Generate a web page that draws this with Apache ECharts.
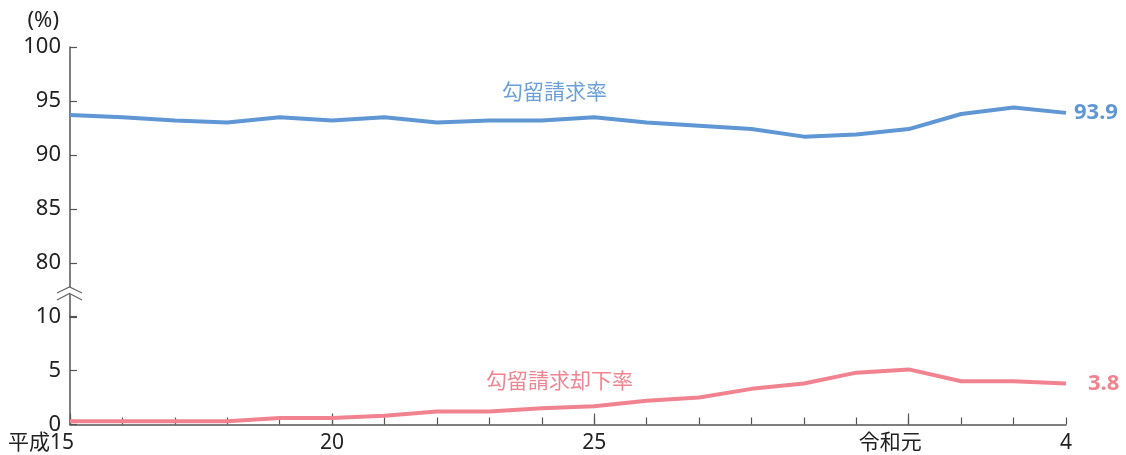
<!DOCTYPE html>
<html>
<head>
<meta charset="utf-8">
<script src="https://cdn.jsdelivr.net/npm/echarts@6/dist/echarts.min.js"></script>
<style>
html,body{margin:0;padding:0;background:#fff;}
#chart{width:1126px;height:455px;}
</style>
</head>
<body>
<div id="chart"></div>
<script>
// Data
const categories = ['平成15','16','17','18','19','20','21','22','23','24','25','26','27','28','29','30','令和元','2','3','4'];
const requestRate = [93.7, 93.5, 93.2, 93.0, 93.5, 93.2, 93.5, 93.0, 93.2, 93.2, 93.5, 93.0, 92.7, 92.4, 91.7, 91.9, 92.4, 93.8, 94.4, 93.9];
const rejectRate = [0.3, 0.3, 0.3, 0.3, 0.6, 0.6, 0.8, 1.2, 1.2, 1.5, 1.7, 2.2, 2.5, 3.3, 3.8, 4.8, 5.1, 4.0, 4.0, 3.8];
const upperTicks = [80, 85, 90, 95, 100];
const lowerTicks = [0, 5, 10];
const labelIdx = [0, 5, 10, 16, 19];
const majorTickIdx = [0, 5, 10, 16];
const seriesNames = ['勾留請求率', '勾留請求却下率'];

const FONT = '"Noto Sans", "Noto Sans CJK JP", sans-serif';
const BLUE = '#5f96d4';
const PINK = '#f0838f';
const AXIS = '#555555';
const TXT = '#222222';

const chart = echarts.init(document.getElementById('chart'), null, {renderer: 'canvas'});

const baseX = {
  type: 'category',
  data: categories,
  boundaryGap: false
};

const option = {
  animation: false,
  textStyle: {fontFamily: FONT},
  grid: [
    {left: 70, right: 60, top: 47, height: 270},
    {left: 70, right: 60, top: 316.5, height: 108}
  ],
  xAxis: [
    Object.assign({}, baseX, {gridIndex: 0, show: false}),
    Object.assign({}, baseX, {
      gridIndex: 1,
      position: 'bottom',
      axisLine: {show: true, lineStyle: {color: AXIS, width: 1.5}},
      axisTick: {show: true, inside: true, length: 7, interval: 0, lineStyle: {color: AXIS, width: 1.2}},
      axisLabel: {
        show: true,
        interval: function (i) { return labelIdx.indexOf(i) >= 0; },
        margin: 8,
        color: TXT,
        fontSize: 21,
        fontFamily: FONT,
        formatter: function (v, i) {
          if (i === 0) return '{a|' + v + '}{s|}';
          if (v === '令和元') return '{a|' + v + '}{t|}';
          return v;
        },
        rich: {
          a: {fontSize: 21, fontFamily: FONT, color: TXT},
          s: {width: 58, fontSize: 21},
          t: {width: 37, fontSize: 21}
        }
      },
      splitLine: {show: false}
    }),
    Object.assign({}, baseX, {
      gridIndex: 1,
      position: 'bottom',
      axisLine: {show: false},
      axisTick: {show: true, inside: true, length: 11,
        interval: function (i) { return majorTickIdx.indexOf(i) >= 0; },
        lineStyle: {color: AXIS, width: 1.2}},
      axisLabel: {show: false},
      splitLine: {show: false}
    })
  ],
  yAxis: [
    {
      type: 'value', gridIndex: 0, min: 75, max: 100, interval: 5,
      name: '(%)', nameLocation: 'end', nameGap: 15,
      nameTextStyle: {color: TXT, fontSize: 22, fontFamily: FONT, align: 'right', padding: [0, 11, 0, 0]},
      axisLine: {show: true, lineStyle: {color: AXIS, width: 1.5}},
      axisTick: {show: true, inside: true, length: 7, lineStyle: {color: AXIS, width: 1.2}},
      axisLabel: {
        color: TXT, fontSize: 22, fontFamily: FONT, margin: 9,
        formatter: function (v) { return upperTicks.indexOf(v) >= 0 ? String(v) : ''; }
      },
      splitLine: {show: false}
    },
    {
      type: 'value', gridIndex: 1, min: 0, max: 10, interval: 5,
      axisLine: {show: true, lineStyle: {color: AXIS, width: 1.5}},
      axisTick: {show: true, inside: true, length: 7, lineStyle: {color: AXIS, width: 1.2}},
      axisLabel: {
        color: TXT, fontSize: 22, fontFamily: FONT, margin: 9,
        formatter: function (v) { return lowerTicks.indexOf(v) >= 0 ? String(v) : ''; }
      },
      splitLine: {show: false}
    }
  ],
  series: [
    {
      name: seriesNames[0], type: 'line', xAxisIndex: 0, yAxisIndex: 0,
      data: requestRate, symbol: 'none', smooth: false,
      lineStyle: {color: BLUE, width: 4}, itemStyle: {color: BLUE},
      endLabel: {show: true, formatter: function (p) { return p.value.toFixed(1); },
        color: BLUE, fontSize: 22, fontWeight: 'bold', fontFamily: FONT, distance: 8}
    },
    {
      name: seriesNames[1], type: 'line', xAxisIndex: 1, yAxisIndex: 1,
      data: rejectRate, symbol: 'none', smooth: false,
      lineStyle: {color: PINK, width: 4}, itemStyle: {color: PINK},
      endLabel: {show: true, formatter: function (p) { return p.value.toFixed(1); },
        color: PINK, fontSize: 22, fontWeight: 'bold', fontFamily: FONT, distance: 22}
    }
  ],
  graphic: [
    {type: 'text', left: 502, top: 83, z: 10,
      style: {text: seriesNames[0], fill: '#6a9fd8', fontSize: 21, fontFamily: FONT}},
    {type: 'text', left: 486, top: 372, z: 10,
      style: {text: seriesNames[1], fill: '#f08591', fontSize: 21, fontFamily: FONT}},
    {type: 'polygon', z: 20,
      shape: {points: [[57, 293], [69.5, 287], [82, 293], [82, 300], [69.5, 293.5], [57, 300]]},
      style: {fill: '#ffffff', stroke: null}},
    {type: 'polyline', z: 21,
      shape: {points: [[57, 293], [69.5, 287], [82, 293]]},
      style: {stroke: '#666', lineWidth: 1.2, fill: null}},
    {type: 'polyline', z: 21,
      shape: {points: [[57, 300], [69.5, 293.5], [82, 300]]},
      style: {stroke: '#666', lineWidth: 1.2, fill: null}}
  ]
};

chart.setOption(option);
</script>
</body>
</html>
